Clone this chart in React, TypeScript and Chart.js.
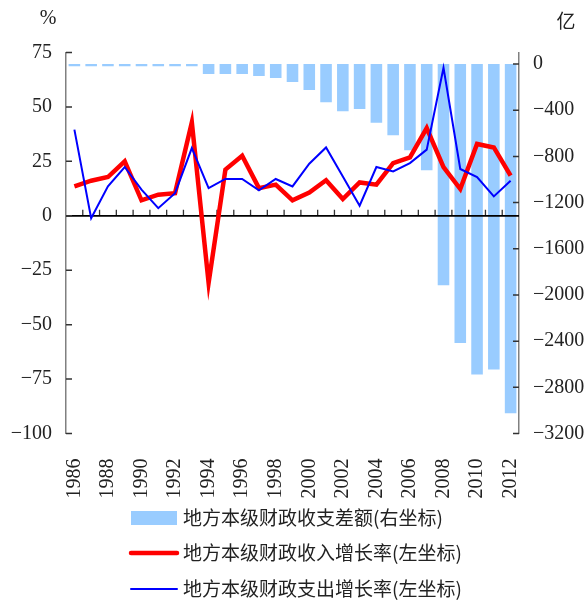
import React, { useEffect, useRef } from 'react';
import { Chart, registerables } from 'chart.js';

Chart.register(...registerables);

const years = ['1986','1987','1988','1989','1990','1991','1992','1993','1994','1995','1996','1997','1998','1999','2000','2001','2002','2003','2004','2005','2006','2007','2008','2009','2010','2011','2012'];
const balance = [-20,-20,-20,-20,-20,-20,-20,-20,-87,-87,-87,-104,-120,-156,-225,-330,-408,-390,-509,-616,-746,-919,-1917,-2417,-2689,-2645,-3024];
const revenueGrowth = [13.5,16.1,17.8,25,7.1,9.7,10.4,42.9,-30.8,21.2,27.6,12.7,14.3,7.1,10.7,16.3,7.7,15.3,14.3,24.2,26.8,40.3,22.4,12.3,33,31.4,18.4];
const expenditureGrowth = [39.6,-1.1,13.5,22.4,12,3.5,10.4,31.1,12.7,16.9,16.9,11.7,16.9,13.5,23.9,31.4,18.1,4.6,22.4,20.4,24.2,30.4,68,21.5,17.8,8.9,16.1];
const leftTicks = [-100,-75,-50,-25,0,25,50,75];
const rightTicks = [-3200,-2800,-2400,-2000,-1600,-1200,-800,-400,0];
const seriesLabels = ['地方本级财政收支差额(右坐标)','地方本级财政收入增长率(左坐标)','地方本级财政支出增长率(左坐标)'];
const leftUnit = '%';
const rightUnit = '亿';

const SERIF = '"Liberation Serif", "DejaVu Serif", serif';
const CJK = '"Noto Sans CJK SC", sans-serif';
const TEXT = '#222';
const AXIS = '#808080';
const BAR = '#99CCFF';
const RED = '#FF0000';
const BLUE = '#0000FF';

const fmt = (v: number) => (v < 0 ? '\u2212' + String(-v) : String(v));

const decor = {
  id: 'decor',
  afterDatasetDraw(chart: any, args: any) {
    if (args.index !== 0) return;
    const { ctx, chartArea } = chart;
    const xs = chart.scales.x;
    const y = chart.scales.y;
    const y0 = y.getPixelForValue(0);
    ctx.save();
    ctx.strokeStyle = '#333';
    ctx.lineWidth = 1.3;
    ctx.beginPath();
    for (let i = 0; i < years.length - 1; i++) {
      const bx = (xs.getPixelForTick(i) + xs.getPixelForTick(i + 1)) / 2;
      ctx.moveTo(bx, y0);
      ctx.lineTo(bx, y0 - 6);
    }
    ctx.stroke();
    ctx.strokeStyle = '#000';
    ctx.lineWidth = 1.8;
    ctx.beginPath();
    ctx.moveTo(chartArea.left, y0);
    ctx.lineTo(chartArea.right, y0);
    ctx.stroke();
    ctx.restore();
  },
  afterDraw(chart: any) {
    const { ctx, chartArea } = chart;
    const y = chart.scales.y;
    const y1 = chart.scales.y1;
    ctx.save();
    ctx.strokeStyle = '#333';
    ctx.lineWidth = 1.5;
    ctx.beginPath();
    leftTicks.forEach((v) => {
      const py = y.getPixelForValue(v);
      ctx.moveTo(chartArea.left, py);
      ctx.lineTo(chartArea.left + 6, py);
    });
    rightTicks.forEach((v) => {
      const py = y1.getPixelForValue(v);
      ctx.moveTo(chartArea.right, py);
      ctx.lineTo(chartArea.right - 6, py);
    });
    ctx.stroke();
    ctx.fillStyle = TEXT;
    ctx.textAlign = 'center';
    ctx.textBaseline = 'middle';
    ctx.font = '20px ' + SERIF;
    ctx.fillText(leftUnit, chartArea.left - 18, chartArea.top - 34);
    ctx.font = '19px ' + CJK;
    ctx.fillText(rightUnit, chartArea.right + 47, chartArea.top - 32);
    const lx = 131;
    const tx = 183;
    const rows = [518, 553, 589];
    const ds = chart.data.datasets;
    ctx.font = '19px ' + CJK;
    ctx.textAlign = 'left';
    ds.forEach((d: any, i: number) => {
      const ry = rows[i];
      if (d.type === 'bar') {
        ctx.fillStyle = d.backgroundColor;
        ctx.fillRect(lx, ry - 7, 46, 14);
      } else {
        ctx.strokeStyle = d.borderColor;
        ctx.lineWidth = d.borderWidth;
        ctx.lineCap = 'round';
        ctx.beginPath();
        ctx.moveTo(lx, ry);
        ctx.lineTo(lx + 46, ry);
        ctx.stroke();
      }
      ctx.fillStyle = TEXT;
      ctx.fillText(d.label, tx, ry);
    });
    ctx.restore();
  },
};

export default function App() {
  const ref = useRef<HTMLCanvasElement>(null);
  useEffect(() => {
    if (!ref.current) return;
    const chart = new Chart(ref.current, {
      data: {
        labels: years,
        datasets: [
          {
            type: 'bar',
            label: seriesLabels[0],
            data: balance,
            yAxisID: 'y1',
            backgroundColor: BAR,
            borderWidth: 0,
            barPercentage: 0.69,
            categoryPercentage: 1,
            order: 2,
          },
          {
            type: 'line',
            label: seriesLabels[1],
            data: revenueGrowth,
            yAxisID: 'y',
            borderColor: RED,
            backgroundColor: RED,
            borderWidth: 4.5,
            pointRadius: 0,
            tension: 0,
            order: 1,
          },
          {
            type: 'line',
            label: seriesLabels[2],
            data: expenditureGrowth,
            yAxisID: 'y',
            borderColor: BLUE,
            backgroundColor: BLUE,
            borderWidth: 2,
            pointRadius: 0,
            tension: 0,
            order: 0,
          },
        ],
      } as any,
      options: {
        animation: false,
        responsive: true,
        maintainAspectRatio: false,
        layout: { padding: { top: 52.5, bottom: 97.5, left: 0, right: 0 } },
        plugins: { legend: { display: false }, tooltip: { enabled: false } },
        scales: {
          x: {
            type: 'category',
            offset: true,
            grid: { display: false, drawTicks: false },
            border: { display: false },
            ticks: {
              autoSkip: false,
              minRotation: 90,
              maxRotation: 90,
              padding: 25,
              color: TEXT,
              font: { family: SERIF, size: 20 },
              callback: (_v: any, i: number) => (i % 2 === 0 ? years[i] : ''),
            },
            afterFit: (s: any) => { s.height = 70; },
          },
          y: {
            position: 'left',
            min: -100,
            max: 75,
            grid: { display: false, drawTicks: false },
            border: { display: true, color: AXIS, width: 1.5 },
            afterBuildTicks: (s: any) => { s.ticks = leftTicks.map((v) => ({ value: v })); },
            ticks: {
              padding: 14,
              color: TEXT,
              font: { family: SERIF, size: 20 },
              callback: (v: any) => fmt(Number(v)),
            },
            afterFit: (s: any) => { s.width = 66; },
          },
          y1: {
            position: 'right',
            min: -3200,
            max: 100,
            grid: { display: false, drawTicks: false },
            border: { display: true, color: AXIS, width: 1.5 },
            afterBuildTicks: (s: any) => { s.ticks = rightTicks.map((v) => ({ value: v })); },
            ticks: {
              padding: 14,
              color: TEXT,
              font: { family: SERIF, size: 20 },
              callback: (v: any) => fmt(Number(v)),
            },
            afterFit: (s: any) => { s.width = 65; },
          },
        },
      } as any,
      plugins: [decor],
    });
    return () => chart.destroy();
  }, []);
  return (
    <div style={{ position: 'fixed', left: 0, top: 0, width: 584, height: 601, background: '#fff' }}>
      <canvas ref={ref} />
    </div>
  );
}
